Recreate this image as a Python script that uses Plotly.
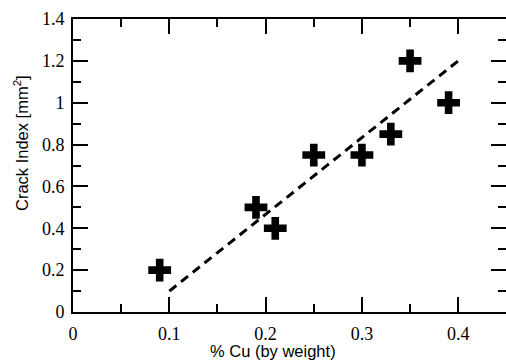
import plotly.graph_objects as go

cu_pct = [0.09, 0.19, 0.21, 0.25, 0.30, 0.33, 0.35, 0.39]
crack_index = [0.2, 0.5, 0.4, 0.75, 0.75, 0.85, 1.2, 1.0]
fit_x = [0.1, 0.4]
fit_y = [0.1, 1.2]
x_ticks = [0, 0.1, 0.2, 0.3, 0.4]
x_tick_labels = ["0", "0.1", "0.2", "0.3", "0.4"]
y_ticks = [0, 0.2, 0.4, 0.6, 0.8, 1.0, 1.2, 1.4]
y_tick_labels = ["0", "0.2", "0.4", "0.6", "0.8", "1", "1.2", "1.4"]

XR = [0, 0.4496]
YR = [0, 1.4]

fig = go.Figure()
fig.add_trace(go.Scatter(x=fit_x, y=fit_y, mode="lines",
                         line=dict(color="black", width=3, dash="9px,6px"),
                         showlegend=False, hoverinfo="skip"))
fig.add_trace(go.Scatter(x=cu_pct, y=crack_index, mode="markers",
                         marker=dict(symbol="cross", size=19, color="black", line=dict(width=0)),
                         showlegend=False))
fig.add_trace(go.Scatter(x=[None], y=[None], xaxis="x2", yaxis="y2", showlegend=False))

SERIF = "Liberation Serif"
SANS = "Liberation Sans"


def minor(dt):
    return dict(ticks="inside", ticklen=8, dtick=dt, tick0=0, tickcolor="black", tickwidth=1.5)


fig.update_layout(
    template="none",
    width=506, height=361,
    margin=dict(l=73, r=0, t=19, b=49),
    paper_bgcolor="white", plot_bgcolor="white",
    font=dict(family=SERIF, size=18, color="black"),
    xaxis2=dict(overlaying="x", side="top"),
    yaxis2=dict(overlaying="y", side="right"),
)
fig.update_xaxes(range=XR, tickvals=x_ticks, ticks="inside", ticklen=15, tickwidth=1.5,
                 tickcolor="black", showgrid=False, zeroline=False, minor=minor(0.05))
fig.update_yaxes(range=YR, tickvals=y_ticks, ticks="inside", ticklen=15, tickwidth=1.5,
                 tickcolor="black", showgrid=False, zeroline=False, minor=minor(0.1))
fig.update_layout(
    xaxis=dict(ticktext=x_tick_labels, tickfont=dict(family=SERIF, size=18),
               showline=True, linecolor="black", linewidth=2, ticklabelstandoff=4),
    yaxis=dict(ticktext=y_tick_labels, tickfont=dict(family=SERIF, size=18),
               showline=True, linecolor="black", linewidth=2, ticklabelstandoff=3),
    xaxis2=dict(showticklabels=False, showline=True, linecolor="black", linewidth=2),
    yaxis2=dict(showticklabels=False, showline=False),
    annotations=[
        dict(text="Crack Index [mm<sup>2</sup>]", xref="paper", yref="paper",
             x=-73/433 + 21/433, y=(312-143)/293, xanchor="center", yanchor="middle",
             textangle=-90, showarrow=False,
             font=dict(family=SANS, size=16.5, color="black")),
        dict(text="% Cu (by weight)", xref="paper", yref="paper",
             x=(273-73)/433, y=-(351-312)/293, xanchor="center", yanchor="middle",
             showarrow=False,
             font=dict(family=SANS, size=16.5, color="black")),
    ],
)

fig.write_html("out.html")
